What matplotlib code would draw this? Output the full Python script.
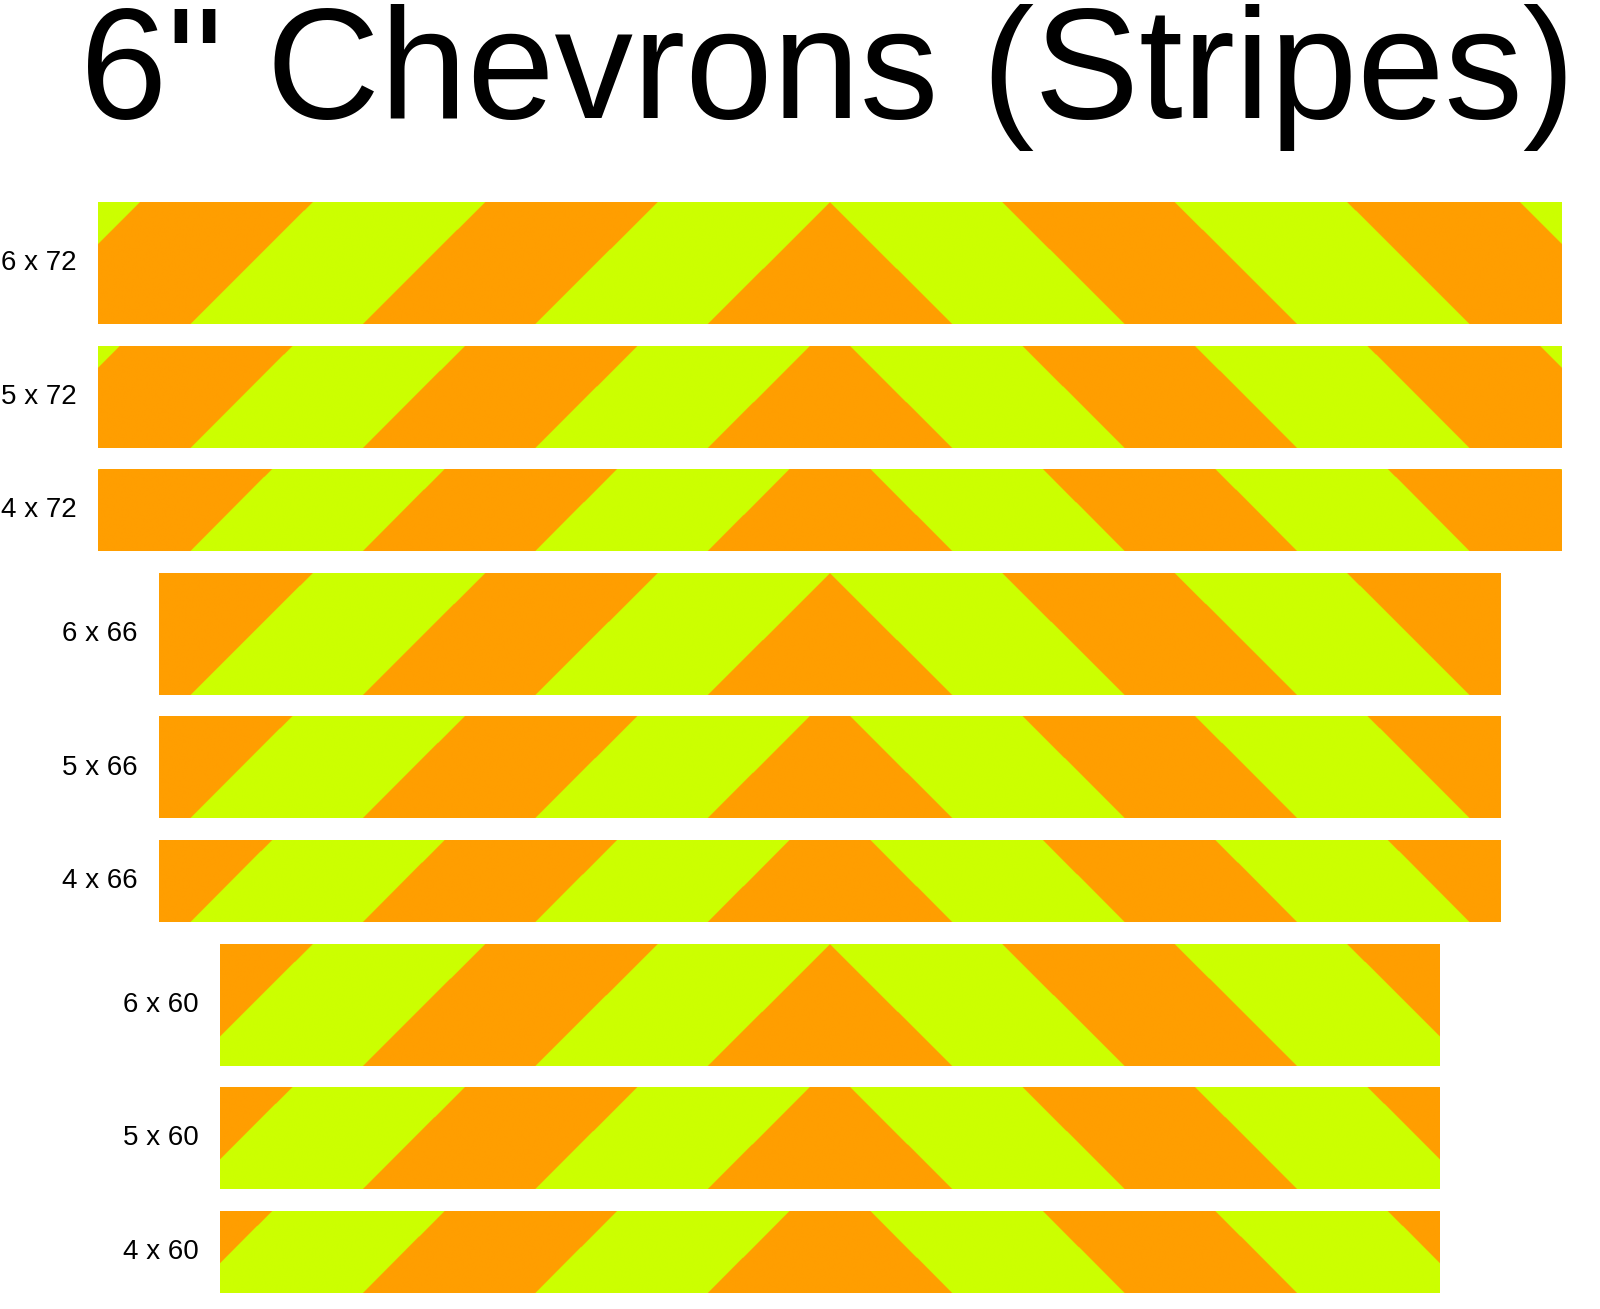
import numpy as np
import matplotlib.pyplot as plt
from matplotlib.colors import ListedColormap

# strip sizes (inches): height x length
heights = [6, 5, 4, 6, 5, 4, 6, 5, 4]
lengths = [72, 72, 72, 66, 66, 66, 60, 60, 60]
labels = [f"{h} x {l}" for h, l in zip(heights, lengths)]
stripe_width = 6.0

ORANGE = "#FF9E00"
YELLOW = "#CCFF00"

PX = 20.33  # pixels per inch
fig = plt.figure(figsize=(16, 13.09), dpi=100)
ax = fig.add_axes([0, 0, 1, 1])
ax.axis("off")

cmap = ListedColormap([YELLOW, ORANGE])
gap = 1.08
y_top = 0.0
for h, L, lab in zip(heights, lengths, labels):
    x0 = 36 - L / 2
    nx, ny = int(L * 50), int(h * 50)
    xs = np.linspace(x0, x0 + L, nx)
    ys = np.linspace(0, h, ny)  # local y from top
    X, Y = np.meshgrid(xs, ys)
    yb = h - Y  # from bottom
    s = (np.abs(X - 36) + yb - 6) / (stripe_width * np.sqrt(2))
    orange = (s < 0) | (np.floor(s) % 2 == 1)
    ax.imshow(orange.astype(int), cmap=cmap, vmin=0, vmax=1, origin="upper",
              extent=(x0, x0 + L, y_top + h, y_top), aspect="auto",
              interpolation="antialiased")
    ax.text(x0 - 1.05, y_top + h / 2, lab, ha="right", va="center",
            fontsize=20, family="Liberation Sans")
    y_top += h + gap

ax.set_xlim(-98 / PX, (1600 - 98) / PX)
ax.set_ylim((1309 - 202) / PX, -202 / PX)

fig.text(828 / 1600, 1 - 118 / 1309, '6" Chevrons (Stripes)', ha="center",
         va="baseline", fontsize=113, family="Liberation Sans")

fig.savefig("out.png", dpi=100, facecolor="white")
